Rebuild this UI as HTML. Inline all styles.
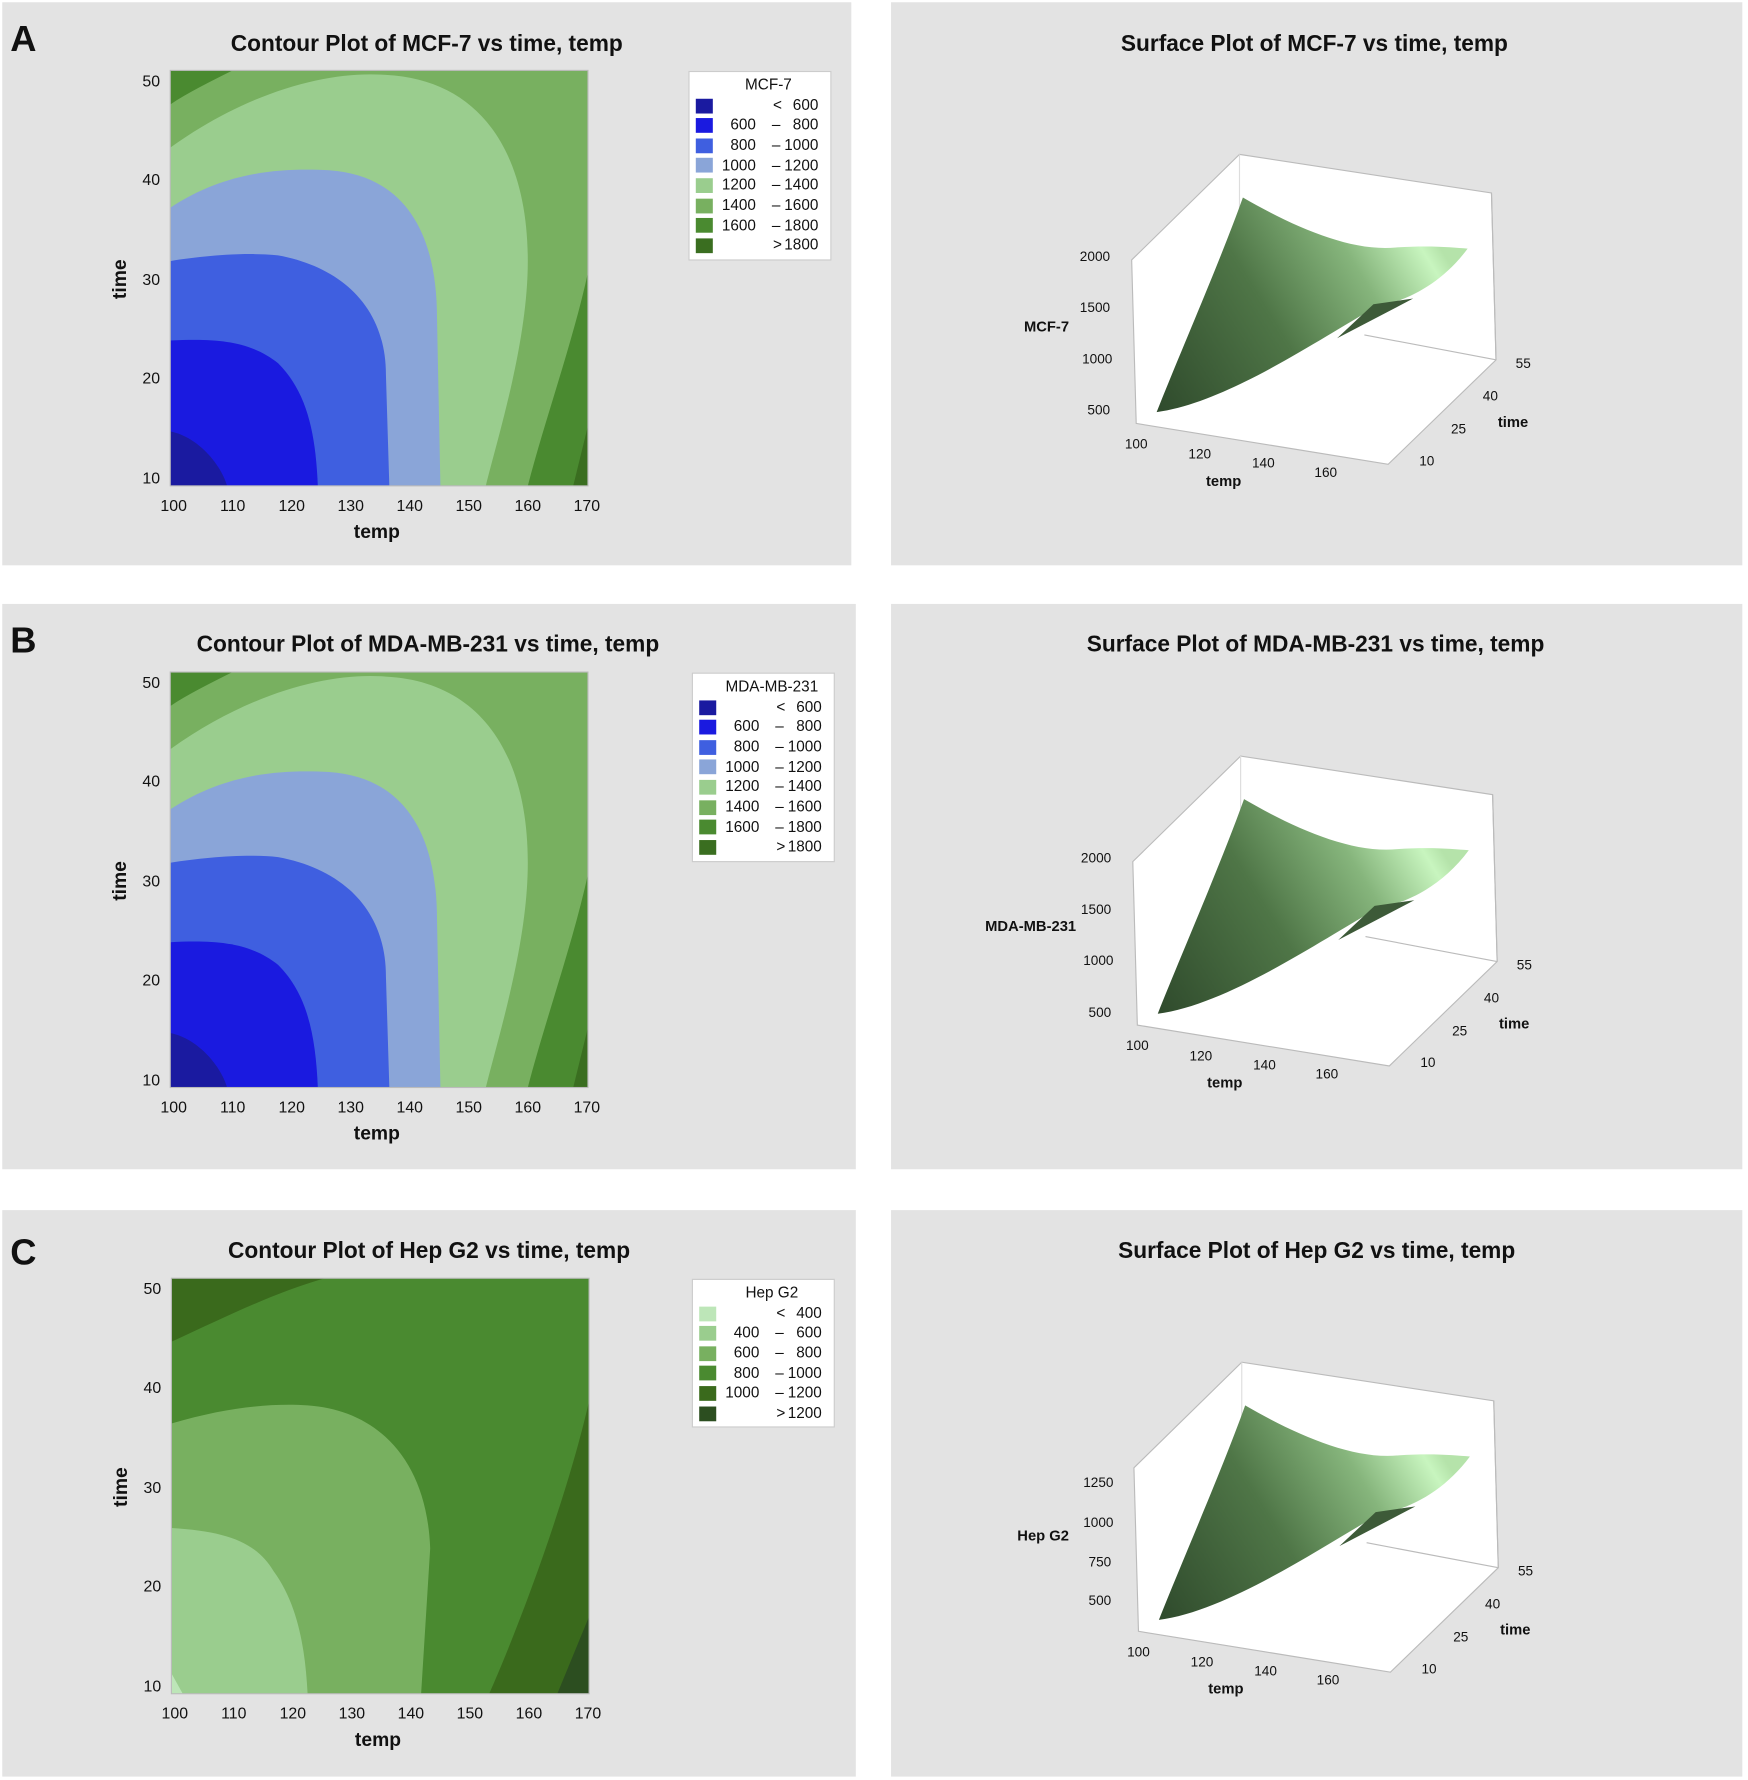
<!DOCTYPE html>
<html><head><meta charset="utf-8"><style>
html,body{margin:0;padding:0;background:#fff;}
svg{display:block;}
text{font-family:"Liberation Sans",sans-serif;fill:#111;}
.t{font-size:20px;font-weight:bold;text-anchor:middle;}
.tk{font-size:14px;}
.ax{font-size:17px;font-weight:bold;}
.lg{font-size:13.5px;}
.sm{font-size:12px;}
.sb{font-size:13px;font-weight:bold;}
</style></head><body>
<svg width="1748" height="1780" viewBox="0 0 1540 1568" preserveAspectRatio="none" xmlns="http://www.w3.org/2000/svg">
<defs>
<clipPath id="cA"><rect x="150" y="62" width="368" height="366"/></clipPath>
<linearGradient id="sg" x1="1019" y1="363" x2="1265" y2="212" gradientUnits="userSpaceOnUse">
<stop offset="0" stop-color="#2f4a2c"/><stop offset="0.45" stop-color="#4f7647"/><stop offset="0.75" stop-color="#86b57c"/><stop offset="0.95" stop-color="#c8f5bf"/><stop offset="1" stop-color="#b5e3aa"/>
</linearGradient>
<g id="surf">
<polygon points="997,229 1092,136 1314,170 1318,317 1223,409 1001,373" fill="#fff" stroke="#bbb" stroke-width="1"/>
<line x1="1092" y1="136" x2="1092" y2="290" stroke="#ddd"/>
<line x1="1202" y1="295" x2="1318" y2="317" stroke="#bbb"/>
<line x1="1314" y1="170" x2="1318" y2="317" stroke="#bbb"/>
<path d="M1019,363 C1040,310 1075,230 1095,174 C1140,200 1190,222 1230,218 C1260,216 1280,218 1293,219 C1270,250 1240,265 1213,270 C1160,300 1080,355 1019,363 Z" fill="url(#sg)"/>
<path d="M1210,268 L1245,263 L1178,298 Z" fill="#3d5a38"/>
<g class="sm">
<text x="1001" y="395" text-anchor="middle">100</text>
<text x="1057" y="404" text-anchor="middle">120</text>
<text x="1113" y="412" text-anchor="middle">140</text>
<text x="1168" y="420" text-anchor="middle">160</text>
<text x="1257" y="410" text-anchor="middle">10</text>
<text x="1285" y="382" text-anchor="middle">25</text>
<text x="1313" y="353" text-anchor="middle">40</text>
<text x="1342" y="324" text-anchor="middle">55</text>
</g>
<text x="1078" y="428" class="sb" text-anchor="middle">temp</text>
<text x="1333" y="376" class="sb" text-anchor="middle">time</text>
</g>
</defs>
<rect width="1540" height="1568" fill="#fff"/>
<!-- panels -->
<rect x="2" y="2" width="748" height="496" fill="#e3e3e3"/>
<rect x="785" y="2" width="750" height="496" fill="#e3e3e3"/>
<rect x="2" y="532" width="752" height="498" fill="#e3e3e3"/>
<rect x="785" y="532" width="750" height="498" fill="#e3e3e3"/>
<rect x="2" y="1066" width="752" height="499" fill="#e3e3e3"/>
<rect x="785" y="1066" width="750" height="499" fill="#e3e3e3"/>

<!-- contour A and B -->
<g id="ctr">
<g clip-path="url(#cA)">
<rect x="150" y="62" width="368" height="366" fill="#78b060"/>
<path d="M150,62 L205,62 C185,72 165,82 150,92 Z" fill="#4a8a30"/>
<path d="M518,240 C505,300 480,370 465,428 L518,428 Z" fill="#4a8a30"/>
<path d="M518,375 L505,428 L518,428 Z" fill="#3a6e20"/>
<path d="M150,130 C220,80 290,62 340,66 C420,70 465,130 465,230 C465,300 440,380 428,428 L150,428 Z" fill="#9acd8e"/>
<path d="M150,183 C200,150 250,148 290,150 C360,155 385,210 385,280 L388,428 L150,428 Z" fill="#8aa5d8"/>
<path d="M150,230 C180,225 220,222 245,225 C300,235 340,270 340,330 L343,428 L150,428 Z" fill="#3f5fe0"/>
<path d="M150,300 C190,298 220,300 245,320 C270,345 278,380 280,428 L150,428 Z" fill="#1a1ae0"/>
<path d="M150,380 C175,385 195,410 200,428 L150,428 Z" fill="#1a1aa0"/>
</g>
<rect x="150" y="62" width="368" height="366" fill="none" stroke="#bbb"/>
<g class="tk" text-anchor="end">
<text x="141" y="76">50</text><text x="141" y="163">40</text><text x="141" y="251">30</text><text x="141" y="338">20</text><text x="141" y="426">10</text>
</g>
<g class="tk" text-anchor="middle">
<text x="153" y="450">100</text><text x="205" y="450">110</text><text x="257" y="450">120</text><text x="309" y="450">130</text><text x="361" y="450">140</text><text x="413" y="450">150</text><text x="465" y="450">160</text><text x="517" y="450">170</text>
</g>
<text x="332" y="474" class="ax" text-anchor="middle">temp</text>
<text class="ax" transform="translate(111,246) rotate(-90)" text-anchor="middle">time</text>
</g>
<use href="#ctr" transform="translate(0,530)"/>

<!-- legends A -->
<g class="lg">
<rect x="607" y="63" width="125" height="166" fill="#fff" stroke="#ccc"/>
<text x="677" y="79" text-anchor="middle">MCF-7</text>
<rect x="613" y="87" width="15" height="13" fill="#1a1aa0"/><text x="685" y="97" text-anchor="middle">&lt;</text><text x="721" y="97" text-anchor="end">600</text>
<rect x="613" y="104" width="15" height="13" fill="#1a1ae0"/><text x="666" y="114" text-anchor="end">600</text><text x="680" y="114">–</text><text x="721" y="114" text-anchor="end">800</text>
<rect x="613" y="122" width="15" height="13" fill="#3f5fe0"/><text x="666" y="132" text-anchor="end">800</text><text x="680" y="132">–</text><text x="721" y="132" text-anchor="end">1000</text>
<rect x="613" y="139" width="15" height="13" fill="#8aa5d8"/><text x="666" y="150" text-anchor="end">1000</text><text x="680" y="150">–</text><text x="721" y="150" text-anchor="end">1200</text>
<rect x="613" y="157" width="15" height="13" fill="#9acd8e"/><text x="666" y="167" text-anchor="end">1200</text><text x="680" y="167">–</text><text x="721" y="167" text-anchor="end">1400</text>
<rect x="613" y="175" width="15" height="13" fill="#78b060"/><text x="666" y="185" text-anchor="end">1400</text><text x="680" y="185">–</text><text x="721" y="185" text-anchor="end">1600</text>
<rect x="613" y="192" width="15" height="13" fill="#4a8a30"/><text x="666" y="203" text-anchor="end">1600</text><text x="680" y="203">–</text><text x="721" y="203" text-anchor="end">1800</text>
<rect x="613" y="210" width="15" height="13" fill="#3a6e20"/><text x="685" y="220" text-anchor="middle">&gt;</text><text x="721" y="220" text-anchor="end">1800</text>
</g>
<!-- legend B -->
<g class="lg" transform="translate(3,530)">
<rect x="607" y="63" width="125" height="166" fill="#fff" stroke="#ccc"/>
<text x="677" y="79" text-anchor="middle">MDA-MB-231</text>
<rect x="613" y="87" width="15" height="13" fill="#1a1aa0"/><text x="685" y="97" text-anchor="middle">&lt;</text><text x="721" y="97" text-anchor="end">600</text>
<rect x="613" y="104" width="15" height="13" fill="#1a1ae0"/><text x="666" y="114" text-anchor="end">600</text><text x="680" y="114">–</text><text x="721" y="114" text-anchor="end">800</text>
<rect x="613" y="122" width="15" height="13" fill="#3f5fe0"/><text x="666" y="132" text-anchor="end">800</text><text x="680" y="132">–</text><text x="721" y="132" text-anchor="end">1000</text>
<rect x="613" y="139" width="15" height="13" fill="#8aa5d8"/><text x="666" y="150" text-anchor="end">1000</text><text x="680" y="150">–</text><text x="721" y="150" text-anchor="end">1200</text>
<rect x="613" y="157" width="15" height="13" fill="#9acd8e"/><text x="666" y="167" text-anchor="end">1200</text><text x="680" y="167">–</text><text x="721" y="167" text-anchor="end">1400</text>
<rect x="613" y="175" width="15" height="13" fill="#78b060"/><text x="666" y="185" text-anchor="end">1400</text><text x="680" y="185">–</text><text x="721" y="185" text-anchor="end">1600</text>
<rect x="613" y="192" width="15" height="13" fill="#4a8a30"/><text x="666" y="203" text-anchor="end">1600</text><text x="680" y="203">–</text><text x="721" y="203" text-anchor="end">1800</text>
<rect x="613" y="210" width="15" height="13" fill="#3a6e20"/><text x="685" y="220" text-anchor="middle">&gt;</text><text x="721" y="220" text-anchor="end">1800</text>
</g>

<!-- contour C -->
<g transform="translate(1,1064)">
<g clip-path="url(#cA)">
<rect x="150" y="62" width="368" height="366" fill="#4a8a30"/>
<path d="M150,118 C200,95 240,75 285,62 L150,62 Z" fill="#3a6a1c"/>
<path d="M518,170 C500,250 460,360 430,428 L518,428 Z" fill="#3a6a1c"/>
<path d="M518,360 L490,428 L518,428 Z" fill="#2c4e20"/>
<path d="M150,190 C200,175 240,172 270,174 C330,178 375,220 378,300 L370,428 L150,428 Z" fill="#78b060"/>
<path d="M150,282 C200,285 225,295 240,320 C262,350 268,390 270,428 L150,428 Z" fill="#9acd8e"/>
<path d="M150,410 L160,428 L150,428 Z" fill="#bde6b8"/>
</g>
<rect x="150" y="62" width="368" height="366" fill="none" stroke="#bbb"/>
<g class="tk" text-anchor="end">
<text x="141" y="76">50</text><text x="141" y="163">40</text><text x="141" y="251">30</text><text x="141" y="338">20</text><text x="141" y="426">10</text>
</g>
<g class="tk" text-anchor="middle">
<text x="153" y="450">100</text><text x="205" y="450">110</text><text x="257" y="450">120</text><text x="309" y="450">130</text><text x="361" y="450">140</text><text x="413" y="450">150</text><text x="465" y="450">160</text><text x="517" y="450">170</text>
</g>
<text x="332" y="474" class="ax" text-anchor="middle">temp</text>
<text class="ax" transform="translate(111,246) rotate(-90)" text-anchor="middle">time</text>
</g>
<g class="lg" transform="translate(3,1064)">
<rect x="607" y="63" width="125" height="130" fill="#fff" stroke="#ccc"/>
<text x="677" y="79" text-anchor="middle">Hep G2</text>
<rect x="613" y="87" width="15" height="13" fill="#bde6b8"/><text x="685" y="97" text-anchor="middle">&lt;</text><text x="721" y="97" text-anchor="end">400</text>
<rect x="613" y="104" width="15" height="13" fill="#9acd8e"/><text x="666" y="114" text-anchor="end">400</text><text x="680" y="114">–</text><text x="721" y="114" text-anchor="end">600</text>
<rect x="613" y="122" width="15" height="13" fill="#78b060"/><text x="666" y="132" text-anchor="end">600</text><text x="680" y="132">–</text><text x="721" y="132" text-anchor="end">800</text>
<rect x="613" y="139" width="15" height="13" fill="#4a8a30"/><text x="666" y="150" text-anchor="end">800</text><text x="680" y="150">–</text><text x="721" y="150" text-anchor="end">1000</text>
<rect x="613" y="157" width="15" height="13" fill="#3a6a1c"/><text x="666" y="167" text-anchor="end">1000</text><text x="680" y="167">–</text><text x="721" y="167" text-anchor="end">1200</text>
<rect x="613" y="175" width="15" height="13" fill="#2c4e20"/><text x="685" y="185" text-anchor="middle">&gt;</text><text x="721" y="185" text-anchor="end">1200</text>
</g>

<!-- titles -->
<text x="376" y="45" class="t">Contour Plot of MCF-7 vs time, temp</text>
<text x="1158" y="45" class="t">Surface Plot of MCF-7 vs time, temp</text>
<text x="377" y="574" class="t">Contour Plot of MDA-MB-231 vs time, temp</text>
<text x="1159" y="574" class="t">Surface Plot of MDA-MB-231 vs time, temp</text>
<text x="378" y="1108" class="t">Contour Plot of Hep G2 vs time, temp</text>
<text x="1160" y="1108" class="t">Surface Plot of Hep G2 vs time, temp</text>
<text x="9" y="45" style="font-size:32px;font-weight:bold">A</text>
<text x="9" y="575" style="font-size:32px;font-weight:bold">B</text>
<text x="9" y="1114" style="font-size:32px;font-weight:bold">C</text>

<!-- surfaces -->
<use href="#surf"/>
<g class="sm" text-anchor="end">
<text x="978" y="230">2000</text><text x="978" y="275">1500</text><text x="980" y="320">1000</text><text x="978" y="365">500</text>
</g>
<text x="922" y="292" class="sb" text-anchor="middle">MCF-7</text>

<use href="#surf" transform="translate(1,530)"/>
<g class="sm" text-anchor="end">
<text x="979" y="760">2000</text><text x="979" y="805">1500</text><text x="981" y="850">1000</text><text x="979" y="896">500</text>
</g>
<text x="908" y="820" class="sb" text-anchor="middle">MDA-MB-231</text>

<use href="#surf" transform="translate(2,1064)"/>
<g class="sm" text-anchor="end">
<text x="981" y="1310">1250</text><text x="981" y="1345">1000</text><text x="979" y="1380">750</text><text x="979" y="1414">500</text>
</g>
<text x="919" y="1357" class="sb" text-anchor="middle">Hep G2</text>
</svg>
</body></html>
